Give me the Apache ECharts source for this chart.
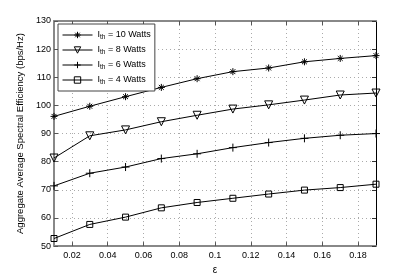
<!DOCTYPE html>
<html><head><meta charset="utf-8">
<script src="https://cdn.jsdelivr.net/npm/echarts@6/dist/echarts.min.js"></script>
<style>html,body{margin:0;padding:0;background:#fff}#c{width:415px;height:280px}</style>
</head><body><div id="c"></div>
<script>
const epsilon = [0.01,0.03,0.05,0.07,0.09,0.11,0.13,0.15,0.17,0.19];
const ith10 = [96.1,99.7,103.1,106.4,109.5,112.0,113.3,115.5,116.7,117.7];
const ith8  = [81.3,89.2,91.3,94.2,96.5,98.7,100.2,101.9,103.7,104.4];
const ith6  = [71.4,75.9,78.1,81.1,82.8,85.0,86.8,88.3,89.4,90.0];
const ith4  = [52.7,57.7,60.3,63.6,65.5,67.0,68.5,69.9,70.8,72.0];
const seriesNames = ['10','8','6','4'];
const xTicks = [0.02,0.04,0.06,0.08,0.1,0.12,0.14,0.16,0.18];
const yTicks = [50,60,70,80,90,100,110,120,130];

const FONT = 'Liberation Sans, Arial, Helvetica, sans-serif';
const asterisk = 'path://M0,-1L0,1M-1,0L1,0M-0.7,-0.7L0.7,0.7M-0.7,0.7L0.7,-0.7';
const plus = 'path://M0,-1L0,1M-1,0L1,0';
const markers = [
  {symbol: asterisk, size: 7, rot: 0, fill: '#000'},
  {symbol: 'triangle', size: 8, rot: 180, fill: 'rgba(255,255,255,0)'},
  {symbol: plus, size: 8, rot: 0, fill: 'rgba(255,255,255,0)'},
  {symbol: 'rect', size: 6, rot: 0, fill: 'rgba(255,255,255,0)'}
];
const allData = [ith10, ith8, ith6, ith4];
const names = seriesNames.map(w => 'I_th = ' + w + ' Watts');

const chart = echarts.init(document.getElementById('c'), null, {renderer: 'canvas'});
const gridLine = {show: true, lineStyle: {color: '#aaa', type: [1, 3], width: 1}};
const option = {
  animation: false,
  textStyle: {fontFamily: FONT},
  grid: {left: 54, right: 39, top: 21, bottom: 32},
  legend: {
    orient: 'vertical', left: 58, top: 24,
    backgroundColor: '#fff', borderColor: '#444', borderWidth: 1,
    padding: [5, 4, 5, 4], itemGap: 3, itemWidth: 30, itemHeight: 8,
    lineStyle: {width: 1, color: '#000'},
    itemStyle: {borderWidth: 1, borderColor: '#000'},
    data: names,
    formatter: function (n) {
      const w = n.split(' = ')[1];
      return '{a|I}{s|th}{a| = ' + w + '}';
    },
    textStyle: {
      fontFamily: FONT,
      rich: {
        a: {fontSize: 9, color: '#000', fontFamily: FONT, lineHeight: 12, verticalAlign: 'middle'},
        s: {fontSize: 6.5, color: '#000', fontFamily: FONT, lineHeight: 12, verticalAlign: 'bottom', padding: [5, 0, 0, 0]}
      }
    }
  },
  xAxis: [{
    type: 'value', min: 0.01, max: 0.19,
    name: 'ε', nameLocation: 'middle', nameGap: 17,
    nameTextStyle: {fontSize: 10, color: '#000', fontFamily: FONT},
    axisLine: {show: true, lineStyle: {color: '#888', width: 2}},
    axisTick: {show: true, inside: true, length: 4, customValues: xTicks, lineStyle: {color: '#555'}},
    axisLabel: {customValues: xTicks, fontSize: 9, color: '#000', margin: 5, fontFamily: FONT},
    splitLine: gridLine
  }, {
    type: 'value', min: 0.01, max: 0.19, position: 'top',
    axisLine: {show: true, lineStyle: {color: '#888', width: 2}},
    axisTick: {show: true, inside: true, length: 4, customValues: xTicks, lineStyle: {color: '#555'}},
    axisLabel: {show: false}, splitLine: {show: false}
  }],
  yAxis: [{
    type: 'value', min: 50, max: 130, interval: 10,
    name: 'Aggregate Average Spectral Efficiency (bps/Hz)', nameLocation: 'middle', nameGap: 19,
    nameTextStyle: {fontSize: 9.5, color: '#000', fontFamily: FONT},
    axisLine: {show: true, lineStyle: {color: '#888', width: 2}},
    axisTick: {show: true, inside: true, length: 4, lineStyle: {color: '#555'}},
    axisLabel: {fontSize: 9, color: '#000', margin: 3, fontFamily: FONT},
    splitLine: gridLine
  }, {
    type: 'value', min: 50, max: 130, interval: 10, position: 'right',
    axisLine: {show: true, lineStyle: {color: '#000', width: 1}},
    axisTick: {show: true, inside: true, length: 4, lineStyle: {color: '#333'}},
    axisLabel: {show: false}, splitLine: {show: false}
  }],
  series: allData.map((d, i) => ({
    name: names[i], type: 'line',
    data: epsilon.map((x, j) => [x, d[j]]),
    symbol: markers[i].symbol, symbolSize: markers[i].size, symbolRotate: markers[i].rot,
    showAllSymbol: true, clip: false,
    lineStyle: {color: '#000', width: 1},
    itemStyle: {color: markers[i].fill, borderColor: '#000', borderWidth: 1},
    emphasis: {disabled: true}
  }))
};
chart.setOption(option);
</script></body></html>
